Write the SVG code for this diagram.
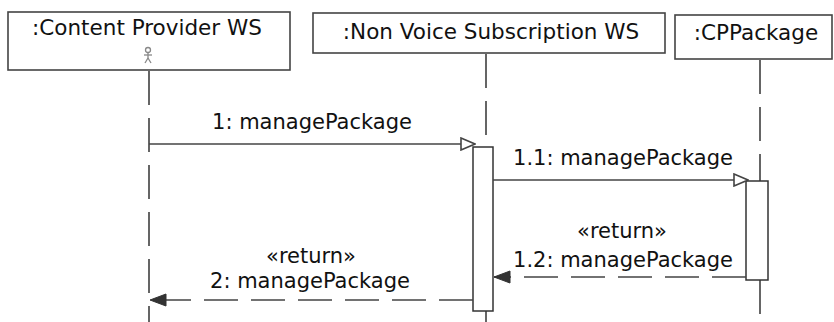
<svg xmlns="http://www.w3.org/2000/svg" width="834" height="322" viewBox="0 0 834 322">
<defs>
<style>
.box{fill:#fff;stroke:#444;stroke-width:1.6}
.hdr{font-family:"DejaVu Sans",Verdana,sans-serif;font-size:21.5px;fill:#111;text-anchor:middle}
.lbl{font-family:"DejaVu Sans",Verdana,sans-serif;font-size:21px;fill:#111;text-anchor:middle}
.life{stroke:#333;stroke-width:1.5;stroke-dasharray:34 13;fill:none}
.bar{fill:#fff;stroke:#333;stroke-width:1.5}
.call{stroke:#444;stroke-width:1.5;fill:none}
.ret{stroke:#444;stroke-width:1.5;stroke-dasharray:34 13;fill:none}
.actor{stroke:#888;stroke-width:1.3;fill:none}
</style>
<marker id="open" markerWidth="16" markerHeight="14" refX="15" refY="7" orient="auto" markerUnits="userSpaceOnUse">
<path d="M1,1 L15,7 L1,13 Z" fill="#fff" stroke="#444" stroke-width="1.6"/>
</marker>
<marker id="filled" markerWidth="18" markerHeight="14" refX="17" refY="7" orient="auto" markerUnits="userSpaceOnUse">
<path d="M1,1 L17,7 L1,13 Z" fill="#333" stroke="#333" stroke-width="1"/>
</marker>
</defs>
<rect width="834" height="322" fill="#fff"/>

<g id="lifelines">
<line class="life" x1="149" y1="71" x2="149" y2="322"/>
<line class="life" x1="486" y1="54" x2="486" y2="147"/>
<line class="life" x1="486" y1="311" x2="486" y2="322"/>
<line class="life" x1="760" y1="60" x2="760" y2="181"/>
<line class="life" x1="760" y1="280" x2="760" y2="322"/>
</g>

<g id="node-content-provider">
<rect class="box" x="8" y="12" width="282" height="58"/>
<text class="hdr" x="147" y="35">:Content Provider WS</text>
<circle class="actor" cx="148" cy="50" r="2.5"/>
<line class="actor" x1="148" y1="52.5" x2="148" y2="58"/>
<line class="actor" x1="144" y1="55" x2="152" y2="55"/>
<line class="actor" x1="148" y1="58" x2="145" y2="63"/>
<line class="actor" x1="148" y1="58" x2="151" y2="63"/>
</g>

<g id="node-nonvoice">
<rect class="box" x="313" y="13" width="352" height="40"/>
<text class="hdr" x="491" y="39">:Non Voice Subscription WS</text>
</g>

<g id="node-cppackage">
<rect class="box" x="675" y="15" width="157" height="44"/>
<text class="hdr" x="756" y="40">:CPPackage</text>
</g>

<g id="activations">
<rect class="bar" x="473" y="147" width="20" height="164"/>
<rect class="bar" x="746" y="181" width="22" height="99"/>
</g>

<g id="connectors">
<line class="call" x1="149" y1="144" x2="475" y2="144" marker-end="url(#open)"/>
<line class="call" x1="493" y1="180" x2="748" y2="180" marker-end="url(#open)"/>
<line class="ret" x1="746" y1="277" x2="494" y2="277" marker-end="url(#filled)"/>
<line class="ret" x1="473" y1="300" x2="150" y2="300" marker-end="url(#filled)"/>
</g>

<g id="labels">
<text class="lbl" x="312" y="129">1: managePackage</text>
<text class="lbl" x="623" y="165">1.1: managePackage</text>
<text class="lbl" x="622" y="238">«return»</text>
<text class="lbl" x="623" y="267">1.2: managePackage</text>
<text class="lbl" x="311" y="263">«return»</text>
<text class="lbl" x="310" y="288">2: managePackage</text>
</g>
</svg>
